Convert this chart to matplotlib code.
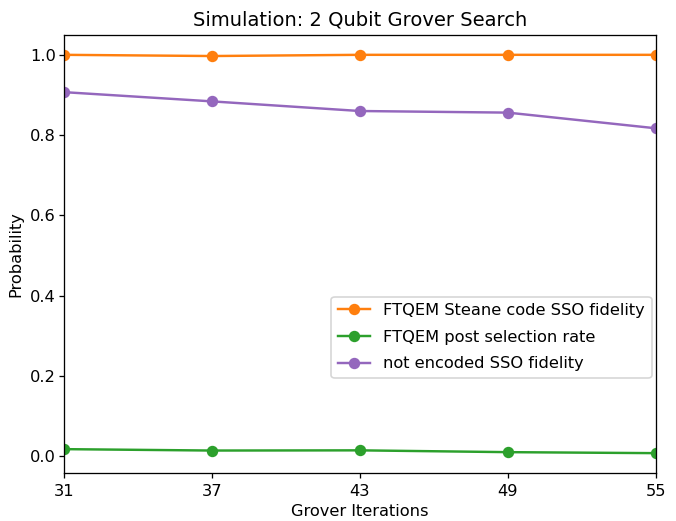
import matplotlib
matplotlib.use("Agg")
import matplotlib.pyplot as plt

iterations = [31, 37, 43, 49, 55]
steane_fidelity = [1.0, 0.997, 1.0, 1.0, 1.0]
post_selection_rate = [0.0175, 0.014, 0.0145, 0.010, 0.0075]
unencoded_fidelity = [0.907, 0.884, 0.860, 0.856, 0.817]

# reference looks like a default-style figure scaled up ~1.17x
dpi = 117
plt.rcParams.update({
    "xtick.major.size": 3,
    "ytick.major.size": 3,
    "xtick.major.pad": 3.5,
    "ytick.major.pad": 2,
})

fig, ax = plt.subplots(figsize=(676 / dpi, 521 / dpi), dpi=dpi)
fig.subplots_adjust(left=0.0947, right=0.970, top=0.933, bottom=0.092)

ax.plot(iterations, steane_fidelity, marker="o", color="C1",
        label="FTQEM Steane code SSO fidelity")
ax.plot(iterations, post_selection_rate, marker="o", color="C2",
        label="FTQEM post selection rate")
ax.plot(iterations, unencoded_fidelity, marker="o", color="C4",
        label="not encoded SSO fidelity")

ax.set_xlim(iterations[0], iterations[-1])
ax.set_xticks(iterations)
ax.set_xlabel("Grover Iterations", labelpad=3.5)
ax.set_ylabel("Probability", labelpad=4)
ax.set_title("Simulation: 2 Qubit Grover Search")
ax.legend(loc="lower right", bbox_to_anchor=(0.993, 0.217), borderaxespad=0,
          labelspacing=0.72)

fig.savefig("out.png", dpi=dpi)
